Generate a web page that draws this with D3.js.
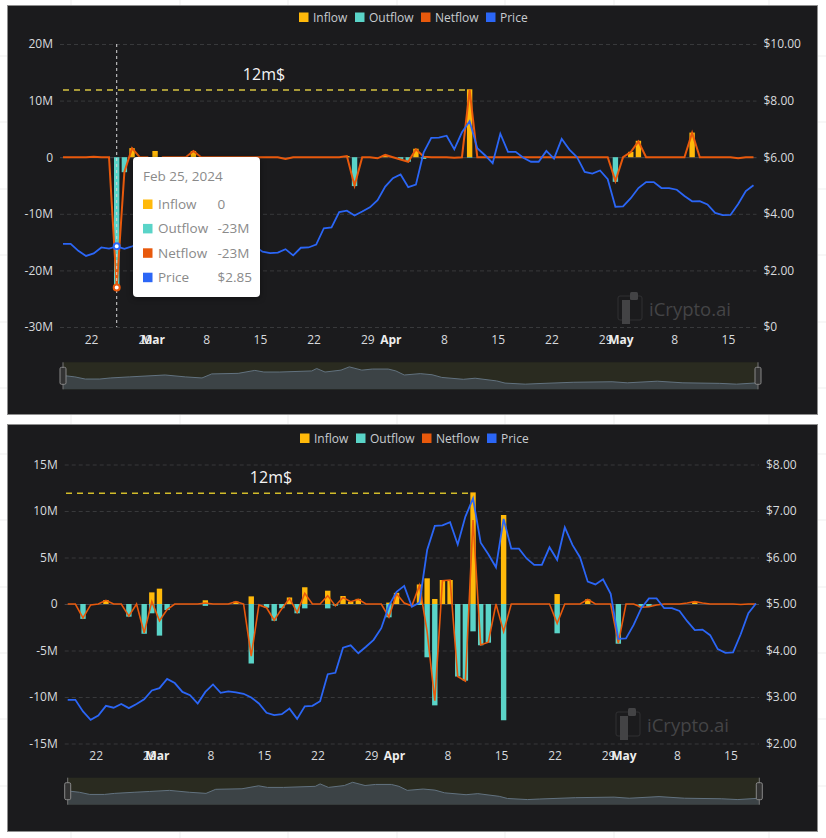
<!DOCTYPE html>
<html>
<head>
<meta charset="utf-8">
<script src="https://cdn.jsdelivr.net/npm/d3@7"></script>
<style>
html, body { margin: 0; padding: 0; background: #fff; }
svg { display: block; font-family: "Open Sans", sans-serif; }
</style>
</head>
<body>
<svg width="826" height="838"></svg>
<script>
var seriesNames = ["Inflow", "Outflow", "Netflow", "Price"];
var seriesColors = ["#ffb90a", "#5ad4c8", "#e8590c", "#2b66f6"];
var firstDay = "2024-02-18", lastDay = "2024-05-18";
var tickDays = ["2024-02-22", "2024-02-29", "2024-03-01", "2024-03-08", "2024-03-15", "2024-03-22", "2024-03-29",
  "2024-04-01", "2024-04-08", "2024-04-15", "2024-04-22", "2024-04-29", "2024-05-01", "2024-05-08", "2024-05-15"];

// price is the same token in both panels
var price = [
  2.94, 2.94, 2.69, 2.51, 2.60, 2.81, 2.77, 2.85, 2.76, 2.85,
  2.95, 3.14, 3.19, 3.39, 3.30, 3.11, 3.04, 2.86, 3.11, 3.27,
  3.09, 3.12, 3.10, 3.07, 2.99, 2.86, 2.66, 2.61, 2.63, 2.75,
  2.53, 2.80, 2.81, 2.91, 3.49, 3.52, 4.06, 4.11, 3.94, 4.08,
  4.23, 4.48, 4.96, 5.26, 5.39, 4.94, 5.03, 6.16, 6.68, 6.69,
  6.76, 6.28, 6.88, 7.27, 6.32, 6.07, 5.79, 6.83, 6.19, 6.19,
  5.98, 5.84, 5.84, 6.22, 5.95, 6.65, 6.27, 6.00, 5.48, 5.42,
  5.53, 5.22, 4.25, 4.26, 4.55, 4.91, 5.12, 5.12, 4.91, 4.91,
  4.85, 4.63, 4.44, 4.45, 4.33, 4.03, 3.95, 3.96, 4.35, 4.80,
  5.01];

var inflowA = [
  0, 0, 0, 0, 0, 0, 0, 0, 0, 1.6,
  0, 0, 1.1, 0, 0, 0, 0, 1.1, 0, 0,
  0, 0, 0, 0, 0, 0, 0, 0, 0, 0,
  0, 0, 0, 0, 0, 0, 0, 0.2, 0, 0,
  0, 0, 0.4, 0, 0, 0, 1.5, 0, 0, 0,
  0, 0, 0, 12, 0, 0, 0, 0, 0, 0,
  0, 0, 0, 0, 0, 0, 0, 0, 0, 0,
  0, 0, 0, 0, 0.95, 2.9, 0, 0, 0, 0,
  0, 0, 4.35, 0, 0, 0, 0, 0, 0, 0,
  0];
var outflowA = [
  0, 0, 0, 0, 0, 0, 0, -23, -2.65, 0,
  0, 0, -2, 0, 0, 0, 0, 0, 0, 0,
  0, 0, 0, 0, 0, 0, 0, 0, 0, 0,
  0, 0, 0, 0, 0, 0, 0, 0, -5.1, 0,
  0, 0, 0, 0, -0.4, -0.8, 0, -0.3, 0, 0,
  0, 0, 0, -0.1, 0, 0, 0, 0, 0, 0,
  0, 0, 0, 0, 0, 0, 0, 0, 0, 0,
  0, 0, -4.35, 0, 0, 0, 0, 0, 0, 0,
  0, 0, 0, 0, 0, 0, 0, 0, 0, 0,
  0];
var netflowA = [
  0, 0, 0, 0, 0.1, 0, 0, -23, -2.6, 1.6,
  0, 0, -0.9, 0, 0, 0, 0, 1.1, 0, 0,
  0, 0, 0, 0, 0, 0, 0, 0, 0, -0.3,
  0, 0, 0, 0, 0, 0, 0, 0.2, -5, 0,
  0, -0.2, 0.4, 0, -0.4, -0.8, 1.4, 0.1, 0, 0,
  0, -0.1, 0, 11.9, 0, 0, 0, 0, 0, 0,
  0, 0, 0, 0, 0, 0, 0, 0, 0, 0,
  0, 0, -4.2, 0, 0.9, 2.8, 0, 0, 0, 0,
  0, 0, 4.3, 0, 0, 0, 0, 0, -0.2, 0,
  0];

var inflowB = [
  0, 0, 0, 0, 0, 0.43, 0, 0, 0, 0,
  0, 1.25, 1.65, 0, 0, 0, 0, 0, 0.4, 0,
  0, 0, 0.25, 0, 0.82, 0, 0, 0, 0, 0.7,
  0, 1.8, 0, 0, 1.43, 0, 0.86, 0.25, 0.55, 0,
  0, 0, 0.15, 1.2, 0, 0, 2.1, 2.76, 0.54, 2.58,
  2.58, 0, 0, 12, 0, 0, 0, 9.57, 0, 0,
  0, 0, 0, 0, 1.07, 0, 0, 0, 0.5, 0,
  0, 0, 0, 0, 0, 0, 0, 0, 0, 0,
  0, 0, 0.25, 0, 0, 0, 0, 0, 0, 0,
  0];
var outflowB = [
  0, 0, -1.6, 0, 0, 0, 0, 0, -1.36, 0,
  -3.2, -1, -3.4, -0.65, 0, 0, 0, 0, -0.2, 0,
  0, 0, 0, 0, -6.4, 0, -0.4, -1.8, -0.45, 0,
  -1, -0.47, 0, 0, -0.47, -0.18, 0, 0, 0, 0,
  0, 0, -1.43, 0, 0, 0, -0.1, -5.73, -10.9, 0,
  0, -7.8, -8.24, -2.94, -4.44, -4.16, 0, -12.5, 0, 0,
  0, 0, 0, 0, -3.15, 0, 0, 0, 0, 0,
  0, 0, -4.27, 0, 0, -0.36, -0.3, 0, 0, 0,
  0, 0, 0, 0, 0, 0, 0, 0, 0, 0,
  0];
var netflowB = [
  0, 0, -1.5, -0.1, 0, 0.4, 0, 0, -1.3, 0,
  -3.1, 0.25, -1.8, -0.6, 0, 0, 0, 0, 0.1, 0,
  0, 0, 0.25, 0, -5.6, -0.1, -0.4, -1.75, -0.5, 0.6,
  -0.9, 1.15, 0, 0, 0.9, -0.2, 0.7, 0.25, 0.5, 0,
  0, 0, -1.4, 1.1, 0.1, -0.2, 2, -3, -10.4, 2.5,
  2.58, -7.8, -8.3, 9.03, -4.4, -4.1, 0, -2.97, 0, 0,
  0, 0, 0, 0, -2.08, 0, 0, 0, 0.5, 0,
  0, 0, -4.2, 0, 0, -0.35, -0.3, -0.1, 0, 0,
  0, 0.1, 0.25, 0.1, 0, 0, 0, 0, -0.05, 0,
  0];

// thumbnail in the zoom slider, position in percent of its width
var sliderPos = [0, 1.7, 3.2, 5.3, 6.8, 9.6, 11.8, 14.7, 17.6, 20, 21.4, 25.2, 27.6, 28.9, 31.2, 35.8, 36.5, 37.7, 40, 41.2, 43,
  44.5, 46.8, 47.9, 49.1, 51.4, 53.1, 54.5, 57.6, 59.3, 62.4, 63.6, 66.5, 68.2, 73.4, 79, 81.2, 85.5, 89.2, 94.5, 96.9, 100];
var sliderVal = [5.1, 4.6, 3.8, 3.8, 4.2, 4.6, 4.9, 5.3, 4.6, 4.2, 5.7, 5.9, 7, 6.4, 6.4, 6.8, 7.7, 6.4, 7.1, 8.3, 7.1,
  7.5, 7.5, 6.8, 5.3, 5.8, 5.4, 4.4, 3.7, 4.1, 3.1, 2.3, 1.9, 2.1, 2.6, 2.8, 2.4, 3, 2.4, 2.2, 1.9, 2.4];

var tipRows = [["Inflow", "0"], ["Outflow", "-23M"], ["Netflow", "-23M"], ["Price", "$2.85"]];

var svg = d3.select("svg");
var parseDay = d3.utcParse("%Y-%m-%d");
var days = d3.utcDay.range(parseDay(firstDay), d3.utcDay.offset(parseDay(lastDay), 1));

// faint sheet grid behind the two panels
var sheet = svg.append("g").attr("stroke", "#efefef");
[71, 180, 288, 397, 505, 614, 769].forEach(function(x) {
  sheet.append("line").attr("x1", x).attr("x2", x).attr("y1", 0).attr("y2", 838);
});
[56, 122, 189, 255, 322, 388, 454, 520, 587, 653, 719, 786].forEach(function(y) {
  sheet.append("line").attr("x1", 0).attr("x2", 826).attr("y1", y).attr("y2", y);
});

function formatM(d) {
  return d === 0 ? "0" : d + "M";
}

function drawPanel(o) {
  var g = svg.append("g");

  g.append("rect")
      .attr("x", 7.5).attr("y", o.top + 0.5)
      .attr("width", 810).attr("height", o.bottom - o.top)
      .attr("fill", "#1b1b1d")
      .attr("stroke", "#8e8e8e");

  var x = d3.scaleUtc().domain([days[0], days[days.length - 1]]).range([o.x0, o.x1]);
  var y = d3.scaleLinear().domain(o.flowDomain).range([o.yBottom, o.yTop]);
  var yPrice = d3.scaleLinear().domain(o.priceDomain).range([o.yBottom, o.yTop]);

  // grid
  g.append("g").selectAll("line")
      .data(o.flowTicks)
    .enter().append("line")
      .attr("x1", o.x0 - 3).attr("x2", o.x1 + 3)
      .attr("y1", function(d) { return y(d) + 0.5; })
      .attr("y2", function(d) { return y(d) + 0.5; })
      .attr("stroke", function(d) { return d === 0 ? "#45464a" : "#38393b"; })
      .attr("stroke-dasharray", function(d) { return d === 0 ? null : "4 3"; });

  // axes
  var axisLeft = g.append("g")
      .attr("transform", "translate(" + (o.x0 - 3) + ",0)")
      .call(d3.axisLeft(y).tickValues(o.flowTicks).tickFormat(formatM).tickSize(0).tickPadding(7));
  var axisRight = g.append("g")
      .attr("transform", "translate(" + (o.x1 + 3) + ",0)")
      .call(d3.axisRight(yPrice).tickValues(o.priceTicks).tickFormat(o.priceFormat).tickSize(0).tickPadding(7));
  var axisX = g.append("g")
      .attr("transform", "translate(-2.6," + o.yBottom + ")")
      .call(d3.axisBottom(x)
        .tickValues(tickDays.map(parseDay))
        .tickFormat(function(d) { return d.getUTCDate() === 1 ? d3.utcFormat("%b")(d) : d3.utcFormat("%-d")(d); })
        .tickSize(0).tickPadding(8));
  [axisLeft, axisRight, axisX].forEach(function(a) {
    a.select(".domain").remove();
    a.attr("font-family", null).attr("font-size", null);
    a.selectAll("text").attr("fill", "#d8dadd").attr("font-size", 12);
  });
  axisX.selectAll("text")
      .attr("font-weight", function(d) { return d.getUTCDate() === 1 ? "700" : null; })
      .attr("fill", function(d) { return d.getUTCDate() === 1 ? "#eeeeee" : "#d8dadd"; });

  // bars
  var barW = 5.4;
  [[o.inflow, seriesColors[0]], [o.outflow, seriesColors[1]]].forEach(function(s) {
    g.append("g").selectAll("rect")
        .data(s[0].map(function(v, i) { return {v: v, day: days[i]}; }).filter(function(d) { return d.v !== 0; }))
      .enter().append("rect")
        .attr("x", function(d) { return x(d.day) - barW / 2; })
        .attr("width", barW)
        .attr("y", function(d) { return Math.min(y(d.v), y(0)); })
        .attr("height", function(d) { return Math.abs(y(d.v) - y(0)); })
        .attr("fill", s[1]);
  });

  // 12m$ mark line
  var peakDay = days[53];
  g.append("line")
      .attr("x1", x.range()[0] + o.markLeft).attr("x2", x(peakDay))
      .attr("y1", y(12) + 0.8).attr("y2", y(12) + 0.8)
      .attr("stroke", o.markColor)
      .attr("stroke-width", o.markWidth)
      .attr("stroke-dasharray", "6 5");
  g.append("text")
      .attr("x", o.markTextX).attr("y", y(12) - 9)
      .attr("text-anchor", "middle")
      .attr("fill", "#f4f4f4")
      .attr("font-size", 16)
      .attr("font-weight", 500)
      .text("12m$");

  // lines
  g.append("path")
      .datum(o.netflow)
      .attr("fill", "none")
      .attr("stroke", seriesColors[2])
      .attr("stroke-width", o.netWidth)
      .attr("d", d3.line()
          .x(function(d, i) { return x(days[i]); })
          .y(function(d) { return y(d); }));
  g.append("path")
      .datum(price)
      .attr("fill", "none")
      .attr("stroke", seriesColors[3])
      .attr("stroke-width", 1.8)
      .attr("d", d3.line()
          .x(function(d, i) { return x(days[i]); })
          .y(function(d) { return yPrice(d); }));

  // legend
  var legend = g.selectAll(".legend")
      .data(seriesNames)
    .enter().append("g")
      .attr("class", "legend")
      .attr("transform", function(d, i) { return "translate(" + o.legendX[i] + "," + o.legendY + ")"; });
  legend.append("rect")
      .attr("y", -5).attr("width", 9.5).attr("height", 9.5)
      .attr("fill", function(d, i) { return seriesColors[i]; });
  legend.append("text")
      .attr("x", 14).attr("dy", ".35em")
      .attr("fill", "#c8ccd0")
      .attr("font-size", 12)
      .text(function(d) { return d; });

  // watermark
  var mark = g.append("g").attr("transform", "translate(" + o.markX + "," + o.markY + ")");
  mark.append("rect").attr("x", 0).attr("y", 4).attr("width", 24).attr("height", 24).attr("rx", 2)
      .attr("fill", "none").attr("stroke", "#303032");
  mark.append("rect").attr("x", 4).attr("y", 8).attr("width", 8).attr("height", 24).attr("fill", "#434345");
  mark.append("rect").attr("x", 12).attr("y", 0).attr("width", 8).attr("height", 8).attr("rx", 1.5).attr("fill", "#434345");
  mark.append("text").attr("x", 31).attr("y", 24)
      .attr("font-size", 18.5).attr("fill", "#444446").text("iCrypto.ai");

  // zoom slider
  var sx = d3.scaleLinear().domain([0, 100]).range([o.x0, o.sliderX1]);
  var sy = d3.scaleLinear().domain([0, 10]).range([o.sliderBottom, o.sliderBottom - 27]);
  g.append("rect")
      .attr("x", sx(0)).attr("y", sy(10))
      .attr("width", sx(100) - sx(0)).attr("height", sy(0) - sy(10))
      .attr("fill", "#2a2b20");
  g.append("path")
      .datum(sliderVal)
      .attr("fill", "#3c4346")
      .attr("d", d3.area()
          .x(function(d, i) { return sx(sliderPos[i]); })
          .y0(sy(0))
          .y1(function(d) { return sy(d); }));
  g.append("path")
      .datum(sliderVal)
      .attr("fill", "none")
      .attr("stroke", "#62727f")
      .attr("d", d3.line()
          .x(function(d, i) { return sx(sliderPos[i]); })
          .y(function(d) { return sy(d); }));
  [0, 100].forEach(function(p) {
    g.append("line")
        .attr("x1", sx(p)).attr("x2", sx(p))
        .attr("y1", sy(10)).attr("y2", sy(0))
        .attr("stroke", "#777");
    g.append("rect")
        .attr("x", sx(p) - 3).attr("y", sy(5) - 8.5)
        .attr("width", 6).attr("height", 17).attr("rx", 1.5)
        .attr("fill", "#333")
        .attr("stroke", "#888");
  });

  return {x: x, y: y, yPrice: yPrice, g: g};
}

var a = drawPanel({
  top: 5, bottom: 414,
  x0: 63, x1: 753.5, yTop: 44, yBottom: 327,
  flowDomain: [-30, 20], flowTicks: [-30, -20, -10, 0, 10, 20],
  priceDomain: [0, 10], priceTicks: [0, 2, 4, 6, 8, 10],
  priceFormat: function(d) { return d === 0 ? "$0" : "$" + d.toFixed(2); },
  inflow: inflowA, outflow: outflowA, netflow: netflowA,
  markLeft: 0, markColor: "#a89a38", markWidth: 2, markTextX: 264, netWidth: 2,
  legendX: [299, 355, 421, 486], legendY: 17.5,
  markX: 618, markY: 292,
  sliderX1: 758, sliderBottom: 389.3
});

drawPanel({
  top: 424, bottom: 831,
  x0: 67.7, x1: 756, yTop: 464.5, yBottom: 743.5,
  flowDomain: [-15, 15], flowTicks: [-15, -10, -5, 0, 5, 10, 15],
  priceDomain: [2, 8], priceTicks: [2, 3, 4, 5, 6, 7, 8],
  priceFormat: function(d) { return "$" + d.toFixed(2); },
  inflow: inflowB, outflow: outflowB, netflow: netflowB,
  markLeft: -1.7, markColor: "#d2bc2a", markWidth: 1.4, markTextX: 271, netWidth: 1.6,
  legendX: [300, 356, 422, 487], legendY: 438.5,
  markX: 616, markY: 708,
  sliderX1: 759.3, sliderBottom: 804.7
});

// hover state of the first panel: pointer line, emphasised points, tooltip
var hoverIndex = 7;
var hx = a.x(days[hoverIndex]);
a.g.append("line")
    .attr("x1", hx).attr("x2", hx)
    .attr("y1", a.y.range()[1]).attr("y2", a.y.range()[0])
    .attr("stroke", "#d8d8d8")
    .attr("stroke-dasharray", "3 3");
a.g.append("circle")
    .attr("cx", hx).attr("cy", a.y(netflowA[hoverIndex])).attr("r", 3)
    .attr("fill", "#fff").attr("stroke", seriesColors[2]).attr("stroke-width", 2);
a.g.append("circle")
    .attr("cx", hx).attr("cy", a.yPrice(price[hoverIndex])).attr("r", 3)
    .attr("fill", "#fff").attr("stroke", seriesColors[3]).attr("stroke-width", 2);

var tip = a.g.append("g").attr("transform", "translate(133,157)");
tip.append("rect")
    .attr("width", 127).attr("height", 140).attr("rx", 4)
    .attr("fill", "#fff")
    .style("filter", "drop-shadow(0 1px 3px rgba(0,0,0,.4))");
tip.append("text")
    .attr("x", 10).attr("y", 19).attr("dy", ".35em")
    .attr("fill", "#8a8a8a").attr("font-size", 13.5)
    .text("Feb 25, 2024");
var row = tip.selectAll(".row")
    .data(tipRows)
  .enter().append("g")
    .attr("class", "row")
    .attr("transform", function(d, i) { return "translate(10," + (47 + i * 24.4) + ")"; });
row.append("rect")
    .attr("y", -4.5).attr("width", 9.5).attr("height", 9.5)
    .attr("fill", function(d, i) { return seriesColors[i]; });
row.append("text")
    .attr("x", 15).attr("dy", ".35em")
    .attr("fill", "#8a8a8a").attr("font-size", 13.5)
    .text(function(d) { return d[0]; });
row.append("text")
    .attr("x", 74.5).attr("dy", ".35em")
    .attr("fill", "#8a8a8a").attr("font-size", 13.5)
    .text(function(d) { return d[1]; });
</script>
</body>
</html>
